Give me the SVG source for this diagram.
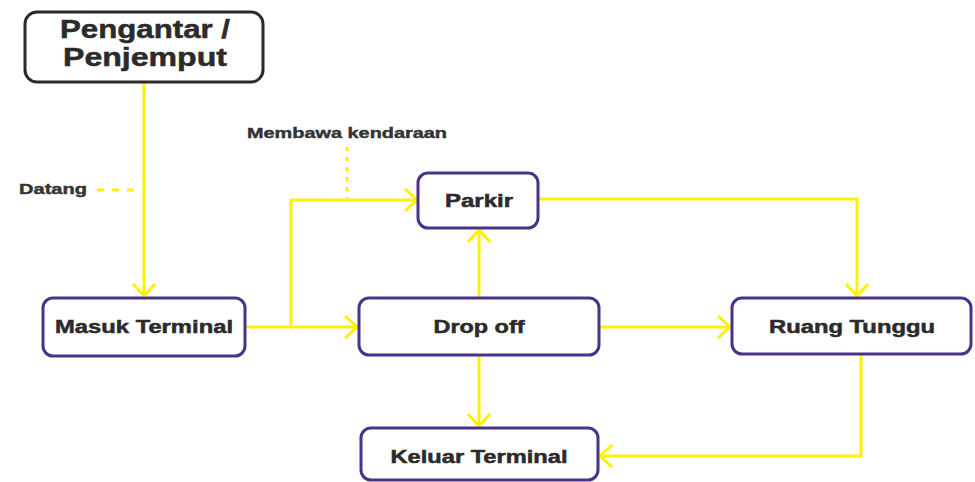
<svg xmlns="http://www.w3.org/2000/svg" width="975" height="482" viewBox="0 0 975 482">
  <style>
    .box { fill: #ffffff; stroke: #4b3289; stroke-width: 3; }
    .box-dark { fill: #ffffff; stroke: #2a2a2a; stroke-width: 3; }
    .lbl { font-family: "Liberation Sans", Arial, sans-serif; font-weight: bold; fill: #2b2b2b; stroke: #2b2b2b; stroke-width: 0.5; text-anchor: middle; }
    .note { font-family: "Liberation Sans", Arial, sans-serif; font-weight: bold; fill: #333333; stroke: #333333; stroke-width: 0.4; }
    .flow { fill: none; stroke: #fff200; stroke-width: 3; stroke-linejoin: miter; }
    .dash { fill: none; stroke: #fff200; stroke-width: 3; stroke-dasharray: 7 8; }
    .dot { fill: none; stroke: #fff200; stroke-width: 3; stroke-dasharray: 4 6; }
  </style>
  <defs>
    <marker id="arrow" markerUnits="userSpaceOnUse" markerWidth="16" markerHeight="26" refX="13" refY="12" orient="auto">
      <path d="M1,1 L13,12 L1,23" fill="none" stroke="#fff200" stroke-width="3"/>
    </marker>
  </defs>

  <rect width="975" height="482" fill="#ffffff"/>

  <!-- connectors -->
  <g id="connectors">
    <path class="flow" d="M144,82 V296" marker-end="url(#arrow)"/>
    <path class="flow" d="M245,327 H357" marker-end="url(#arrow)"/>
    <path class="flow" d="M291,327 V200 H417" marker-end="url(#arrow)"/>
    <path class="flow" d="M479,298 V230" marker-end="url(#arrow)"/>
    <path class="flow" d="M538,199 H857 V296" marker-end="url(#arrow)"/>
    <path class="flow" d="M599,327 H730" marker-end="url(#arrow)"/>
    <path class="flow" d="M479,355 V426" marker-end="url(#arrow)"/>
    <path class="flow" d="M861,354 V456 H600" marker-end="url(#arrow)"/>
    <path class="dash" d="M97,190 H142"/>
    <path class="dot" d="M347,147 V198"/>
  </g>

  <!-- annotations -->
  <g id="note-datang">
    <text class="note" x="19" y="194" font-size="14" textLength="68" lengthAdjust="spacingAndGlyphs">Datang</text>
  </g>
  <g id="note-membawa">
    <text class="note" x="247" y="138" font-size="14" textLength="200" lengthAdjust="spacingAndGlyphs">Membawa kendaraan</text>
  </g>

  <!-- nodes -->
  <g id="pengantar">
    <rect class="box-dark" x="25" y="12" width="238" height="70" rx="12"/>
    <text class="lbl" x="145" y="38" font-size="26" textLength="170" lengthAdjust="spacingAndGlyphs">Pengantar /</text>
    <text class="lbl" x="145" y="66" font-size="26" textLength="164" lengthAdjust="spacingAndGlyphs">Penjemput</text>
  </g>

  <g id="masuk-terminal">
    <rect class="box" x="43" y="298" width="202" height="58" rx="10"/>
    <text class="lbl" x="144" y="333" font-size="18" textLength="178" lengthAdjust="spacingAndGlyphs">Masuk Terminal</text>
  </g>

  <g id="parkir">
    <rect class="box" x="418" y="173" width="120" height="55" rx="10"/>
    <text class="lbl" x="479" y="207" font-size="18" textLength="68" lengthAdjust="spacingAndGlyphs">Parkir</text>
  </g>

  <g id="drop-off">
    <rect class="box" x="359" y="298" width="240" height="57" rx="10"/>
    <text class="lbl" x="479" y="333" font-size="18" textLength="91" lengthAdjust="spacingAndGlyphs">Drop off</text>
  </g>

  <g id="ruang-tunggu">
    <rect class="box" x="732" y="298" width="239" height="56" rx="10"/>
    <text class="lbl" x="852" y="333" font-size="18" textLength="166" lengthAdjust="spacingAndGlyphs">Ruang Tunggu</text>
  </g>

  <g id="keluar-terminal">
    <rect class="box" x="361" y="428" width="237" height="52" rx="10"/>
    <text class="lbl" x="479" y="463" font-size="18" textLength="177" lengthAdjust="spacingAndGlyphs">Keluar Terminal</text>
  </g>
</svg>
